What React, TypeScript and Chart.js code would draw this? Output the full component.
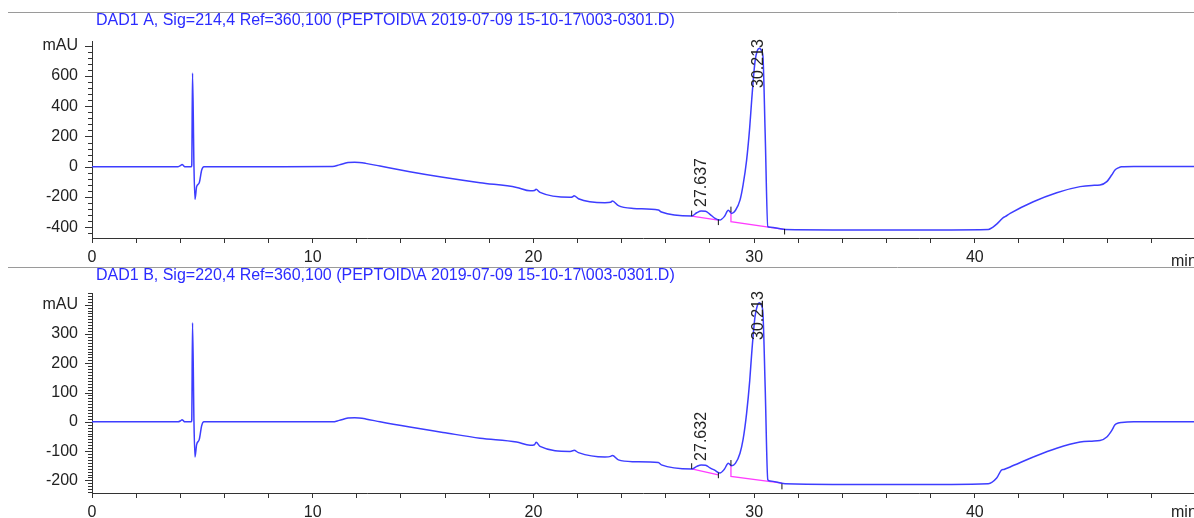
import React, { useEffect, useRef } from 'react';
import { Chart, registerables } from 'chart.js';
Chart.register(...registerables);

// ---------- data (minutes, mAU) ----------
const timesA = [0, 3.9, 4.02, 4.08, 4.14, 4.2, 4.5, 4.52, 4.555, 4.62, 4.665, 4.74, 4.86, 4.97, 5.07, 5.3, 8, 10.9, 11.2, 11.6, 11.9, 12.4, 13.05, 14.4, 15.9, 17.58, 19.24, 19.85, 20.05, 20.12, 20.3, 21.66, 21.78, 21.84, 22.04, 23.24, 23.5, 23.58, 23.85, 24.53, 25.66, 25.8, 27.17, 27.4, 27.6, 27.8, 28.0, 28.23, 28.45, 28.65, 28.83, 28.98, 29.15, 29.36, 29.5, 29.66, 29.8, 29.89, 30.04, 30.15, 30.24, 30.33, 30.4, 30.5, 30.62, 30.72, 31.4, 36.6, 40.61, 40.99, 41.22, 41.3, 41.37, 41.6, 42.65, 43.71, 44.77, 45.3, 45.67, 45.98, 46.2, 46.35, 46.5, 46.65, 47.2, 50];
const signalA = [0, 0, 8, 15, 8, 0, 0, 10, 620, 0, -216, -132, -106, -22, 0, 0, 0, 2, 12, 27, 29, 22, 4, -33, -70, -106, -137, -159, -157, -150, -170, -203, -199, -192, -212, -238, -235, -227, -258, -276, -287, -300, -327, -305, -293, -295, -315, -342, -353, -330, -289, -309, -290, -221, -120, 44, 260, 442, 695, 770, 784, 770, 729, 221, -397, -401, -415, -419, -415, -380, -346, -335, -331, -309, -232, -172, -132, -124, -121, -99, -55, -22, -8, 0, 2, 2];

const timesB = [0, 3.9, 4.02, 4.08, 4.14, 4.2, 4.5, 4.52, 4.555, 4.62, 4.665, 4.74, 4.86, 4.97, 5.07, 5.3, 8, 10.9, 11.2, 11.6, 11.9, 12.4, 13.05, 14.4, 15.9, 17.58, 19.24, 19.85, 20.05, 20.12, 20.3, 21.66, 21.78, 21.84, 22.04, 23.24, 23.5, 23.58, 23.85, 24.53, 25.66, 25.8, 27.17, 27.4, 27.6, 27.8, 28.0, 28.23, 28.45, 28.65, 28.83, 28.98, 29.15, 29.36, 29.5, 29.66, 29.8, 29.89, 30.04, 30.15, 30.24, 30.33, 30.4, 30.5, 30.62, 30.72, 31.4, 36.6, 40.61, 40.99, 41.22, 41.3, 41.37, 41.6, 42.65, 43.71, 44.77, 45.3, 45.67, 45.98, 46.2, 46.35, 46.5, 46.65, 47.2, 50];
const signalB = [0, 0, 4, 7, 4, 0, 0, 6, 338, 0, -120, -78, -60, -13, 0, 0, 0, 0, 5, 13, 14, 10, 0, -18, -36, -56, -69, -80, -78, -70, -84, -101, -99, -97, -105, -120, -118, -115, -130, -136, -139, -147, -161, -152, -147, -148, -157, -166, -175, -162, -141, -150, -142, -107, -60, 30, 140, 234, 359, 398, 407, 398, 370, 120, -198, -202, -211, -214, -211, -192, -164, -163, -161, -154, -120, -90, -69, -66, -64, -52, -30, -10, -4, -2, 0, 0];

// integration baselines (null separates the two segments)
const baseTimesA = [27.17, 28.38, null, 28.95, 28.95, 31.35];
const baseValuesA = [-327, -353, null, -296, -364, -415];
const baseTimesB = [27.17, 28.38, null, 28.95, 28.95, 31.26];
const baseValuesB = [-161, -181, null, -150, -186, -209];

// baseline event tick marks
const markTimesA = [27.17, 28.38, 28.95, 31.38];
const markValuesA = [-309, -368, -283, -430];
const markTimesB = [27.17, 28.38, 28.95, 31.26];
const markValuesB = [-151, -183, -140, -221];

// peak labels
const peakTimesA = [27.637, 30.213];
const peakApexA = [-293, 784];
const peakLabelsA = ['27.637', '30.213'];
const peakTimesB = [27.632, 30.213];
const peakApexB = [-147, 407];
const peakLabelsB = ['27.632', '30.213'];

// axes
const xTickLabels = [0, 10, 20, 30, 40];
const xMinorStep = 2;
const X_MIN = 0;
const X_MAX = 49.93;
const yMajorA = [-400, -200, 0, 200, 400, 600];
const yMinorStepA = 40;
const yUnitTickA = 800;
const yMajorB = [-200, -100, 0, 100, 200, 300];
const yMinorStepB = 10;
const yUnitTickB = 400;

const titleA = 'DAD1 A, Sig=214,4 Ref=360,100 (PEPTOID\\A 2019-07-09 15-10-17\\003-0301.D)';
const titleB = 'DAD1 B, Sig=220,4 Ref=360,100 (PEPTOID\\A 2019-07-09 15-10-17\\003-0301.D)';

const FONT = '"Liberation Sans", Arial, Helvetica, sans-serif';
const BLUE = '#3d3dff';
const MAGENTA = '#ff3cff';
const AXIS = '#333333';
const TEXT = '#222222';

type Panel = {
  times: number[]; values: number[];
  baseT: (number | null)[]; baseV: (number | null)[];
  markT: number[]; markV: number[];
  peakT: number[]; peakV: number[]; peakL: string[];
  yMin: number; yMax: number; yMajor: number[]; yMinorStep: number; yUnit: number;
  title: string; height: number; padTop: number; xHeight: number;
  seps: number[]; titleY: number; minY: number;
};

const panelA: Panel = {
  times: timesA, values: signalA, baseT: baseTimesA, baseV: baseValuesA,
  markT: markTimesA, markV: markValuesA, peakT: peakTimesA, peakV: peakApexA, peakL: peakLabelsA,
  yMin: -472, yMax: 832, yMajor: yMajorA, yMinorStep: yMinorStepA, yUnit: yUnitTickA,
  title: titleA, height: 268, padTop: 41, xHeight: 30, seps: [12.5, 267.5], titleY: 20.5, minY: 265.5,
};
const panelB: Panel = {
  times: timesB, values: signalB, baseT: baseTimesB, baseV: baseValuesB,
  markT: markTimesB, markV: markValuesB, peakT: peakTimesB, peakV: peakApexB, peakL: peakLabelsB,
  yMin: -243, yMax: 440, yMajor: yMajorB, yMinorStep: yMinorStepB, yUnit: yUnitTickB,
  title: titleB, height: 250, padTop: 25, xHeight: 25, seps: [], titleY: 8, minY: 249,
};

function buildChart(canvas: HTMLCanvasElement, p: Panel) {
  const line = p.times.map((t, i) => ({ x: t, y: p.values[i] }));
  const base = p.baseT.map((t, i) => ({ x: t as any, y: p.baseV[i] as any }));
  const marks = p.markT.map((t, i) => ({ x: t, y: p.markV[i] }));

  const yTicks: number[] = [];
  for (let v = Math.ceil(p.yMin / p.yMinorStep) * p.yMinorStep; v <= p.yMax; v += p.yMinorStep) yTicks.push(v);
  const xTicks: number[] = [];
  for (let v = X_MIN; v <= X_MAX; v += xMinorStep) xTicks.push(v);

  const overlay = {
    id: 'overlay',
    afterDraw(chart: any) {
      const ctx = chart.ctx as CanvasRenderingContext2D;
      const area = chart.chartArea;
      const xs = chart.scales.x;
      const ys = chart.scales.y;
      ctx.save();
      // separator lines
      ctx.strokeStyle = '#9a9a9a';
      ctx.lineWidth = 1;
      ctx.beginPath();
      for (const s of p.seps) {
        ctx.moveTo(8, s);
        ctx.lineTo(1194, s);
      }
      ctx.stroke();
      // title
      ctx.fillStyle = '#2b2bff';
      ctx.font = '16px ' + FONT;
      ctx.textAlign = 'left';
      ctx.textBaseline = 'middle';
      ctx.fillText(p.title, 96, p.titleY);
      // y tick marks
      ctx.strokeStyle = AXIS;
      ctx.beginPath();
      for (const t of ys.ticks) {
        const py = Math.round(ys.getPixelForValue(t.value)) + 0.5;
        const major = p.yMajor.includes(t.value) || t.value === p.yUnit;
        const len = major ? 7 : 4;
        ctx.moveTo(area.left - len, py);
        ctx.lineTo(area.left, py);
      }
      ctx.stroke();
      // x unit label
      ctx.fillStyle = TEXT;
      ctx.font = '16px ' + FONT;
      ctx.textBaseline = 'alphabetic';
      ctx.fillText('min', 1171, p.minY);
      // peak labels
      for (let i = 0; i < p.peakT.length; i++) {
        const px = xs.getPixelForValue(p.peakT[i]);
        let py = ys.getPixelForValue(p.peakV[i]) - 4;
        const w = ctx.measureText(p.peakL[i]).width;
        if (py - w < area.top - 2) py = area.top - 2 + w;
        ctx.save();
        ctx.translate(px, py);
        ctx.rotate(-Math.PI / 2);
        ctx.textAlign = 'left';
        ctx.textBaseline = 'middle';
        ctx.fillStyle = TEXT;
        ctx.fillText(p.peakL[i], 0, 0);
        ctx.restore();
      }
      ctx.restore();
    },
  };

  return new Chart(canvas, {
    type: 'line',
    data: {
      datasets: [
        {
          data: base, borderColor: MAGENTA, borderWidth: 1.3, pointRadius: 0, pointHoverRadius: 0,
          spanGaps: false, tension: 0, order: 2,
        } as any,
        {
          data: line, borderColor: BLUE, borderWidth: 1.5, pointRadius: 0, pointHoverRadius: 0,
          cubicInterpolationMode: 'monotone', order: 1,
        } as any,
        {
          data: marks, showLine: false, pointStyle: 'line', rotation: 90, pointRadius: 2.8,
          pointHoverRadius: 2.8, borderColor: '#111', borderWidth: 1, order: 0,
        } as any,
      ],
    },
    options: {
      responsive: false,
      animation: false,
      events: [],
      layout: { autoPadding: false, padding: { top: p.padTop, left: 0, right: 0, bottom: 0 } },
      plugins: { legend: { display: false }, tooltip: { enabled: false }, title: { display: false } },
      scales: {
        x: {
          type: 'linear', min: X_MIN, max: X_MAX,
          afterBuildTicks: (s: any) => { s.ticks = xTicks.map((v) => ({ value: v })); },
          afterFit: (s: any) => { s.height = p.xHeight; s.paddingLeft = 0; s.paddingRight = 0; },
          ticks: {
            autoSkip: false, maxRotation: 0, padding: 5, color: TEXT,
            font: { family: FONT, size: 16 },
            callback: (v: any) => (xTickLabels.includes(Math.round(v)) && Math.abs(v - Math.round(v)) < 1e-6 ? String(Math.round(v)) : ''),
          },
          grid: { display: true, drawOnChartArea: false, drawTicks: true, tickLength: 5, tickColor: AXIS, color: AXIS },
          border: { display: true, color: AXIS, width: 1 },
        },
        y: {
          type: 'linear', min: p.yMin, max: p.yMax,
          afterBuildTicks: (s: any) => { s.ticks = yTicks.map((v) => ({ value: v })); },
          afterFit: (s: any) => { s.width = 92; s.paddingTop = 0; s.paddingBottom = 0; },
          ticks: {
            autoSkip: false, padding: 14, color: TEXT,
            font: { family: FONT, size: 16 },
            callback: (v: any) => (v === p.yUnit ? 'mAU' : p.yMajor.includes(v) ? String(v) : ''),
          },
          grid: { display: false, drawTicks: false },
          border: { display: true, color: AXIS, width: 1 },
        },
      },
    } as any,
    plugins: [overlay],
  });
}

export default function App() {
  const refA = useRef<HTMLCanvasElement>(null);
  const refB = useRef<HTMLCanvasElement>(null);
  useEffect(() => {
    document.body.style.margin = '0';
    document.body.style.background = '#ffffff';
    const a = buildChart(refA.current!, panelA);
    const b = buildChart(refB.current!, panelB);
    return () => { a.destroy(); b.destroy(); };
  }, []);
  return (
    <div style={{ width: 1194, height: 518, overflow: 'hidden', background: '#fff' }}>
      <canvas ref={refA} width={1194} height={268} style={{ display: 'block', width: 1194, height: 268 }} />
      <canvas ref={refB} width={1194} height={250} style={{ display: 'block', width: 1194, height: 250 }} />
    </div>
  );
}
